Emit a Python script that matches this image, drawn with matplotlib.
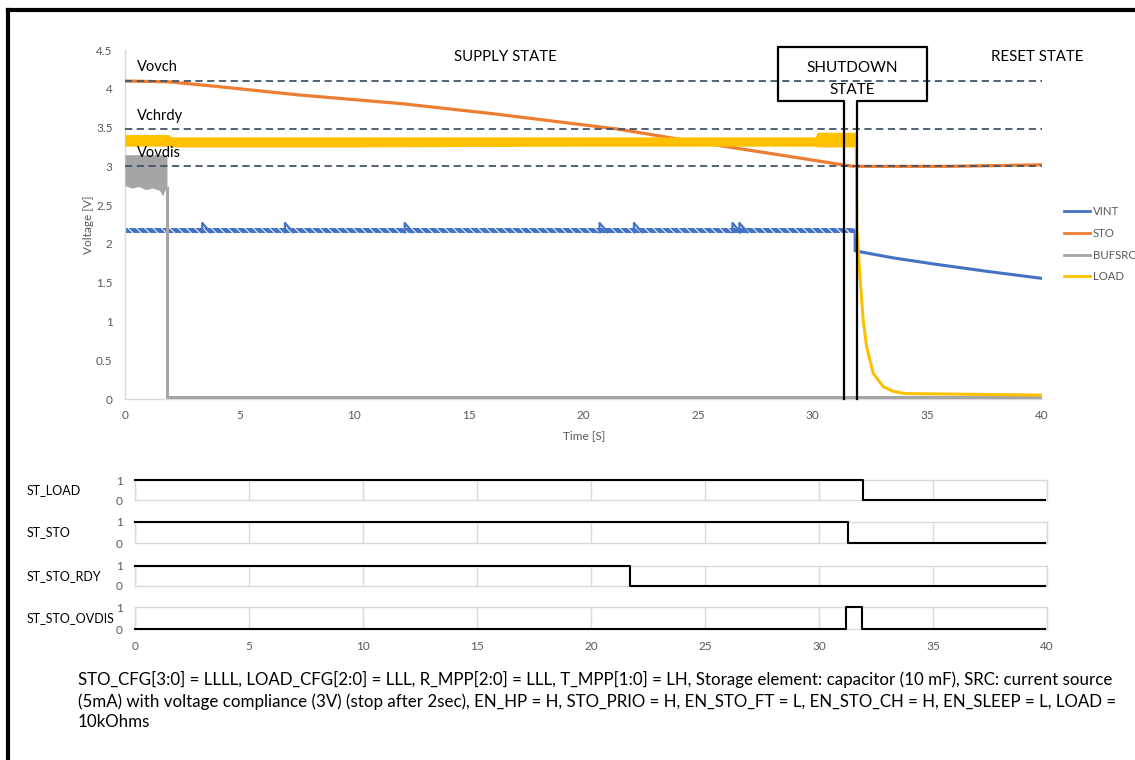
import matplotlib
matplotlib.use('Agg')
import matplotlib.pyplot as plt
from matplotlib.lines import Line2D

plt.rcParams['font.family'] = ['Lato', 'DejaVu Sans']
plt.rcParams['hatch.linewidth'] = 0.7

# ---- top chart data ----
# STO storage voltage
sto_t = [0, 1.9, 4, 7.6, 12, 16, 21.5, 25, 28.5, 31.3, 31.8, 34, 36, 38, 40]
sto_v = [4.1, 4.09, 4.03, 3.92, 3.81, 3.68, 3.48, 3.31, 3.15, 3.02, 3.0, 3.0, 3.0, 3.01, 3.02]

# LOAD: noisy band while supplied, then decay
load_t = [0, 1.9, 2.0, 10, 20, 30.1, 30.2, 31.9]
load_lo = [3.26, 3.26, 3.25, 3.25, 3.26, 3.26, 3.25, 3.25]
load_hi = [3.41, 3.41, 3.38, 3.38, 3.38, 3.38, 3.44, 3.44]
load_dec_t = [31.9, 31.92, 32.07, 32.2, 32.35, 32.64, 33.07, 33.5, 34, 37, 40]
load_dec_v = [3.35, 2.2, 1.53, 1.02, 0.67, 0.33, 0.16, 0.1, 0.07, 0.06, 0.05]

# VINT: ripple band + a few bigger teeth, then droop after shutdown
vint_t = [0, 31.85]
vint_lo = [2.135, 2.135]
vint_hi = [2.205, 2.205]
tooth_t = [3.37, 6.98, 12.2, 20.7, 22.2, 26.5, 26.8]
tooth_peak = 2.27
tooth_len = 0.35
vint_tail_t = [31.85, 31.85, 33.5, 35.3, 37.5, 40]
vint_tail_v = [2.17, 1.91, 1.82, 1.74, 1.65, 1.555]

# BUFSRC: source on for ~2 s
buf_t = [0, 0.3, 0.6, 0.9, 1.2, 1.5, 1.65, 1.75, 1.83]
buf_lo = [2.75, 2.72, 2.74, 2.70, 2.72, 2.69, 2.62, 2.70, 2.72]
buf_hi = [3.15, 3.15, 3.15, 3.15, 3.15, 3.15, 3.15, 3.15, 3.15]
buf_off_t = [1.83, 1.83, 40]
buf_off_v = [2.72, 0.02, 0.02]

thr_names = ['Vovch', 'Vchrdy', 'Vovdis']
thr_vals = [4.1, 3.48, 3.0]

# ---- status signals ----
sig_names = ['ST_LOAD', 'ST_STO', 'ST_STO_RDY', 'ST_STO_OVDIS']
sig_t = [[0, 31.93, 39.9],
         [0, 31.27, 39.9],
         [0, 21.7, 39.9],
         [0, 31.2, 31.9, 39.9]]
sig_v = [[1, 0, 0],
         [1, 0, 0],
         [1, 0, 0],
         [0, 1, 0, 0]]

note = ('STO_CFG[3:0] = LLLL, LOAD_CFG[2:0] = LLL, R_MPP[2:0] = LLL, T_MPP[1:0] = LH, '
        'Storage element: capacitor (10 mF), SRC: current source\n'
        '(5mA) with voltage compliance (3V) (stop after 2sec), EN_HP = H, STO_PRIO = H, '
        'EN_STO_FT = L, EN_STO_CH = H, EN_SLEEP = L, LOAD =\n10kOhms')

C_VINT, C_STO, C_BUF, C_LOAD = '#4472C4', '#ED7D31', '#A5A5A5', '#FFC000'
GREY_TXT = '#595959'
GRID = '#d9d9d9'

W, H = 1135, 760
def fx(px):
    return px / W
def fy(py):
    return 1 - py / H

fig = plt.figure(figsize=(W / 100, H / 100), dpi=100)

# ---------------- top chart ----------------
ax = fig.add_axes([fx(125), fy(399), (1042 - 125) / W, (399 - 50) / H])
ax.set_xlim(0, 40)
ax.set_ylim(0, 4.5)

ax.plot(sto_t, sto_v, color=C_STO, lw=2.3, zorder=3)

# ripple band: blue with white diagonal gaps so it reads as a zigzag
ax.fill_between(vint_t, vint_lo, vint_hi, facecolor=C_VINT, edgecolor='white',
                hatch='\\\\\\\\', lw=0, zorder=2)
for t0 in tooth_t:
    ax.plot([t0, t0, t0 + tooth_len], [2.15, tooth_peak, 2.15], color=C_VINT, lw=1.6, zorder=2)
ax.plot(vint_tail_t, vint_tail_v, color=C_VINT, lw=2.2, zorder=2)

ax.fill_between(buf_t, buf_lo, buf_hi, color=C_BUF, lw=0, zorder=4)
ax.plot(buf_off_t, buf_off_v, color=C_BUF, lw=2.2, zorder=4)

ax.fill_between(load_t, load_lo, load_hi, color=C_LOAD, lw=0, zorder=5)
ax.plot(load_dec_t, load_dec_v, color=C_LOAD, lw=2.2, zorder=5)

for name, v in zip(thr_names, thr_vals):
    ax.axhline(v, color='#44546A', lw=1.3, ls=(0, (4, 2.5)), zorder=6)

for sp in ['top', 'right']:
    ax.spines[sp].set_visible(False)
for sp in ['left', 'bottom']:
    ax.spines[sp].set_color(GRID)
    ax.spines[sp].set_linewidth(1)
ax.set_xticks(range(0, 41, 5))
ax.set_yticks([0, 0.5, 1, 1.5, 2, 2.5, 3, 3.5, 4, 4.5])
ax.set_yticklabels(['0', '0.5', '1', '1.5', '2', '2.5', '3', '3.5', '4', '4.5'])
ax.tick_params(length=0, labelsize=8.5, labelcolor=GREY_TXT)
ax.tick_params(axis='x', pad=8)
ax.tick_params(axis='y', pad=9)

fig.text(fx(584), fy(436), 'Time [S]', ha='center', va='center', fontsize=8.5, color=GREY_TXT)
fig.text(fx(88), fy(225), 'Voltage [V]', ha='center', va='center', fontsize=8.5,
         color=GREY_TXT, rotation=90)

# threshold labels
fig.text(fx(137), fy(67), 'Vovch', ha='left', va='center', fontsize=10.5)
fig.text(fx(137), fy(116), 'Vchrdy', ha='left', va='center', fontsize=10.5)
fig.text(fx(137), fy(153), 'Vovdis', ha='left', va='center', fontsize=10.5)

fig.text(fx(505), fy(57), 'SUPPLY STATE', ha='center', va='center', fontsize=10.8)
fig.text(fx(1037), fy(57), 'RESET STATE', ha='center', va='center', fontsize=10.8)

# shutdown marker (box with two legs down to the axis)
box_l, box_r, box_top, box_bot = 28.48, 34.98, 4.54, 3.84
leg_a, leg_b = 31.36, 31.93
ax.plot([leg_a, leg_a, box_l, box_l, box_r, box_r, leg_b, leg_b],
        [0, box_bot, box_bot, box_top, box_top, box_bot, box_bot, 0],
        color='black', lw=1.6, clip_on=False, zorder=7)
fig.text(fx(852), fy(68), 'SHUTDOWN', ha='center', va='center', fontsize=11)
fig.text(fx(852), fy(90), 'STATE', ha='center', va='center', fontsize=11)

# legend
handles = [Line2D([], [], color=c, lw=2) for c in [C_VINT, C_STO, C_BUF, C_LOAD]]
fig.legend(handles, ['VINT', 'STO', 'BUFSRC', 'LOAD'], loc='upper left',
           bbox_to_anchor=(fx(1064), fy(206)), frameon=False, fontsize=8.2,
           labelcolor=GREY_TXT, handlelength=2.3, handletextpad=0.25, labelspacing=0.95,
           borderaxespad=0, borderpad=0)

# ---------------- status rows ----------------
rows_px = [(480, 500), (522, 543), (566, 586), (607, 629)]
for i, (name, (top, bot)) in enumerate(zip(sig_names, rows_px)):
    a = fig.add_axes([fx(135), fy(bot), (1047 - 135) / W, (bot - top) / H])
    a.set_xlim(0, 40)
    a.set_ylim(0, 1)
    a.plot(sig_t[i], sig_v[i], drawstyle='steps-post', color='black', lw=1.5,
           clip_on=False, zorder=3)
    a.set_xticks(range(0, 41, 5))
    a.set_yticks([0, 1])
    a.grid(axis='x', color=GRID, lw=1)
    for sp in a.spines.values():
        sp.set_color(GRID)
        sp.set_linewidth(1)
    a.tick_params(length=0, labelsize=8.5, labelcolor=GREY_TXT)
    a.tick_params(axis='y', pad=9)
    if i < len(sig_names) - 1:
        a.set_xticklabels([])
    else:
        a.tick_params(axis='x', pad=9)
    fig.text(fx(27), fy((top + bot) / 2), name, ha='left', va='center', fontsize=9)

# ---------------- note ----------------
fig.text(fx(78), fy(671), note, ha='left', va='top', fontsize=12.15, linespacing=1.37)

# frame (left and top edges)
fig.add_artist(Line2D([fx(8), fx(8)], [0, fy(10)], color='black', lw=3))
fig.add_artist(Line2D([fx(8), 1], [fy(10), fy(10)], color='black', lw=3))

fig.savefig('out.png', dpi=100)
